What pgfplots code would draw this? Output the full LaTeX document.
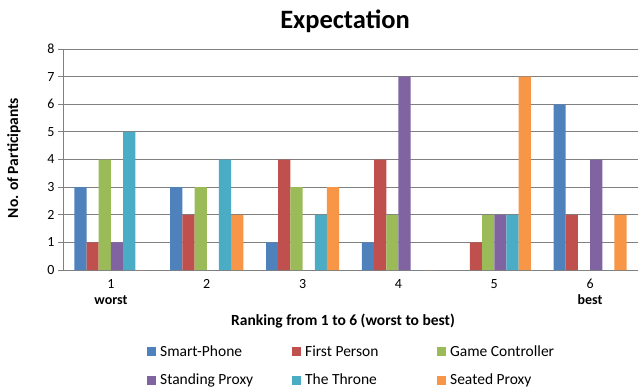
\documentclass[border=0pt]{standalone}
\usepackage{pgfplots}
\pgfplotsset{compat=1.18}
\usepackage{fontspec}
\setmainfont{Carlito}
\definecolor{c1}{HTML}{4F81BD}
\definecolor{c2}{HTML}{C0504D}
\definecolor{c3}{HTML}{9BBB59}
\definecolor{c4}{HTML}{8064A2}
\definecolor{c5}{HTML}{4BACC6}
\definecolor{c6}{HTML}{F79646}
\begin{document}
\begin{tikzpicture}[x=1pt,y=1pt]
\useasboundingbox (0,0) rectangle (644,391);
\begin{axis}[
 at={(63pt,121pt)}, anchor=south west,
 scale only axis, width=575pt, height=221pt,
 xmin=0.5, xmax=6.5, ymin=0, ymax=8,
 ybar=0pt, bar width=0.127,
 xtick={1,...,6},
 xticklabels={{1\\\textbf{worst}},2,3,4,5,{6\\\textbf{best}}},
 x tick label style={align=center, font=\fontsize{14}{16}\selectfont, yshift=-1pt},
 y tick label style={font=\fontsize{14}{14}\selectfont},
 /pgf/number format/assume math mode=true,
 ytick={0,...,8},
 ymajorgrids, grid style={color=black!50, line width=0.9pt},
 axis x line*=bottom, axis y line*=left,
 axis line style={color=black!50, line width=0.9pt},
 tick align=outside,
 major x tick style={draw=none},
 major y tick style={color=black!50, line width=0.9pt},
 major tick length=5pt,
 every axis plot/.append style={draw=none},
 legend columns=3,
 legend style={at={(axis description cs:0.146,-0.434)}, anchor=west, draw=none, inner sep=0pt,
   font=\fontsize{15.5}{15.5}\selectfont, row sep=12pt, column sep=2pt},
 legend cell align=left,
 legend image code/.code={\fill[#1] (0pt,-4.5pt) rectangle (9pt,4.5pt);},
]
\addplot[fill=c1] coordinates {(1,3) (2,3) (3,1) (4,1) (5,0) (6,6)};
\addplot[fill=c2] coordinates {(1,1) (2,2) (3,4) (4,4) (5,1) (6,2)};
\addplot[fill=c3] coordinates {(1,4) (2,3) (3,3) (4,2) (5,2) (6,0)};
\addplot[fill=c4] coordinates {(1,1) (2,0) (3,0) (4,7) (5,2) (6,4)};
\addplot[fill=c5] coordinates {(1,5) (2,4) (3,2) (4,0) (5,2) (6,0)};
\addplot[fill=c6] coordinates {(1,0) (2,2) (3,3) (4,0) (5,7) (6,2)};
\legend{\makebox[128pt][l]{Smart-Phone},\makebox[128pt][l]{First Person},\makebox[128pt][l]{Game Controller},
 \makebox[128pt][l]{Standing Proxy},\makebox[128pt][l]{The Throne},\makebox[128pt][l]{Seated Proxy}}
\end{axis}
\node[font=\bfseries\fontsize{26.5}{26.5}\selectfont] at (345,370) {Expectation};
\node[font=\bfseries\fontsize{15.5}{15.5}\selectfont, rotate=90] at (14,233) {No. of Participants};
\node[font=\bfseries\fontsize{15.5}{15.5}\selectfont] at (343,70) {Ranking from 1 to 6 (worst to best)};
\end{tikzpicture}
\end{document}
